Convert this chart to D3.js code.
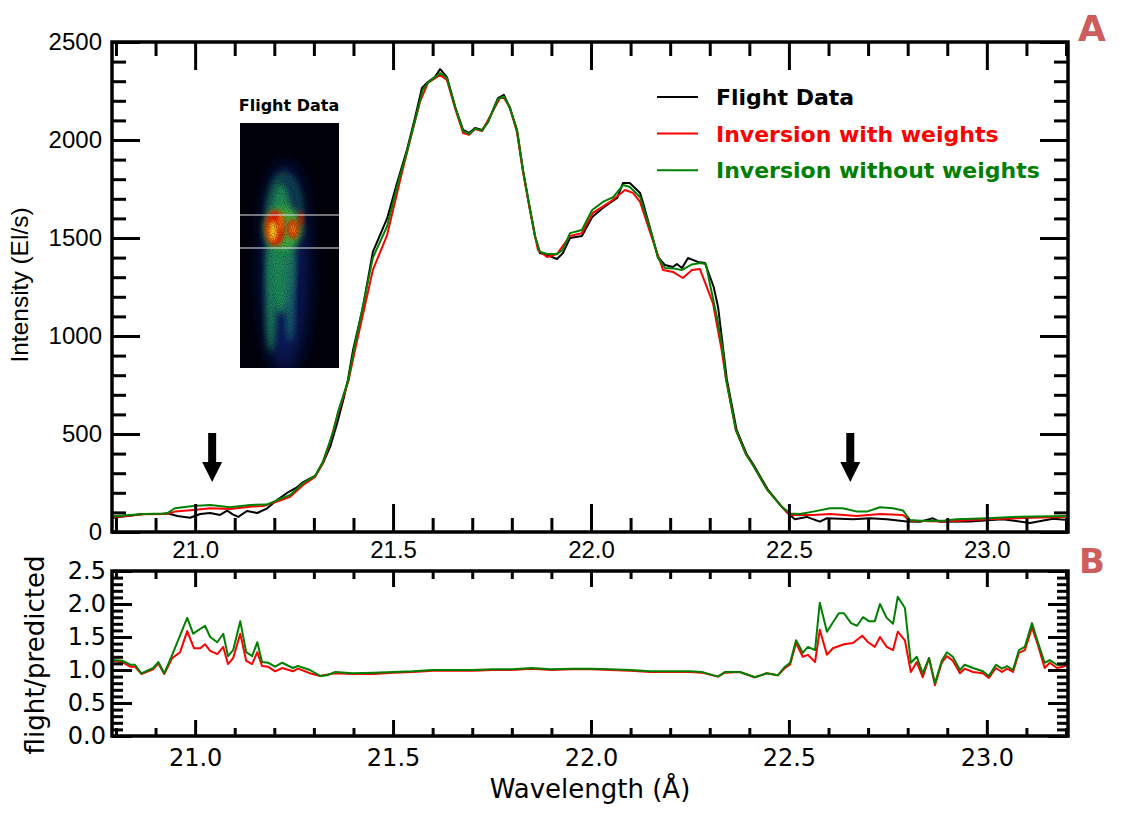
<!DOCTYPE html>
<html>
<head>
<meta charset="utf-8">
<script src="https://cdn.jsdelivr.net/npm/d3@7"></script>
<style>
  body { margin: 0; background: #fff; }
</style>
</head>
<body>
<div id="chart"></div>
<script>
// spectra: [wavelength (A), intensity (El/s)]
var flight = [[20.790,72],[20.802,75],[20.830,82],[20.869,92],[20.912,92],[20.930,96],[20.955,82],[20.987,73],[21.013,92],[21.038,97],[21.063,87],[21.081,109],[21.095,90],[21.109,77],[21.131,107],[21.157,97],[21.182,121],[21.207,163],[21.232,199],[21.255,225],[21.273,255],[21.303,286],[21.323,352],[21.341,434],[21.359,556],[21.375,680],[21.386,776],[21.399,929],[21.424,1148],[21.449,1429],[21.485,1600],[21.510,1780],[21.535,1949],[21.555,2110],[21.573,2265],[21.588,2296],[21.605,2320],[21.619,2362],[21.636,2321],[21.657,2168],[21.677,2051],[21.692,2036],[21.707,2061],[21.725,2051],[21.740,2092],[21.765,2214],[21.780,2230],[21.795,2163],[21.813,2051],[21.828,1847],[21.846,1643],[21.859,1505],[21.871,1423],[21.889,1413],[21.914,1393],[21.929,1423],[21.947,1500],[21.977,1510],[22.003,1607],[22.030,1653],[22.066,1704],[22.081,1781],[22.098,1781],[22.124,1730],[22.131,1684],[22.154,1515],[22.169,1403],[22.187,1362],[22.207,1352],[22.217,1367],[22.230,1347],[22.245,1398],[22.270,1378],[22.288,1372],[22.310,1250],[22.321,1148],[22.333,950],[22.343,781],[22.368,520],[22.393,398],[22.411,342],[22.446,219],[22.480,133],[22.497,97],[22.515,65],[22.545,77],[22.578,53],[22.596,70],[22.662,65],[22.705,70],[22.747,65],[22.798,53],[22.831,52],[22.864,70],[22.881,52],[22.957,53],[23.040,65],[23.109,46],[23.167,68],[23.205,61]];

var withWeights = [[20.790,78],[20.802,78],[20.869,90],[20.929,92],[20.949,104],[20.995,112],[21.038,121],[21.088,117],[21.139,129],[21.172,133],[21.207,155],[21.240,180],[21.273,240],[21.303,281],[21.323,352],[21.341,460],[21.360,600],[21.388,776],[21.404,929],[21.449,1337],[21.485,1515],[21.518,1796],[21.543,2000],[21.568,2194],[21.588,2291],[21.619,2332],[21.636,2306],[21.657,2160],[21.677,2036],[21.692,2026],[21.707,2056],[21.725,2046],[21.770,2214],[21.780,2214],[21.795,2168],[21.813,2040],[21.828,1840],[21.846,1640],[21.866,1439],[21.889,1403],[21.914,1418],[21.947,1510],[21.977,1525],[22.005,1628],[22.048,1684],[22.086,1745],[22.106,1730],[22.124,1684],[22.154,1500],[22.182,1337],[22.207,1327],[22.232,1296],[22.255,1337],[22.275,1342],[22.308,1168],[22.330,929],[22.341,781],[22.366,520],[22.391,398],[22.409,342],[22.444,219],[22.480,133],[22.497,97],[22.503,87],[22.561,87],[22.604,92],[22.672,82],[22.730,92],[22.788,87],[22.806,58],[22.889,53],[23.000,65],[23.205,78]];

var withoutWeights = [[20.790,80],[20.802,82],[20.869,92],[20.929,95],[20.949,121],[20.995,133],[21.038,138],[21.088,126],[21.139,138],[21.182,140],[21.207,163],[21.240,189],[21.273,250],[21.303,286],[21.323,360],[21.348,505],[21.362,620],[21.387,776],[21.401,929],[21.449,1400],[21.485,1560],[21.515,1800],[21.538,1960],[21.558,2120],[21.575,2255],[21.588,2291],[21.605,2320],[21.619,2342],[21.636,2316],[21.657,2168],[21.677,2046],[21.692,2031],[21.707,2058],[21.725,2048],[21.740,2092],[21.765,2210],[21.780,2222],[21.795,2165],[21.813,2051],[21.828,1850],[21.846,1650],[21.859,1505],[21.871,1430],[21.889,1418],[21.914,1418],[21.929,1440],[21.947,1525],[21.977,1541],[22.003,1643],[22.030,1684],[22.056,1709],[22.081,1770],[22.098,1760],[22.124,1709],[22.154,1515],[22.169,1400],[22.187,1347],[22.207,1345],[22.230,1337],[22.255,1365],[22.275,1372],[22.290,1367],[22.318,1097],[22.333,929],[22.341,781],[22.366,520],[22.391,398],[22.409,342],[22.444,219],[22.480,133],[22.503,95],[22.528,92],[22.561,104],[22.604,121],[22.636,121],[22.672,104],[22.697,104],[22.730,126],[22.763,121],[22.788,110],[22.806,61],[22.831,58],[22.889,58],[22.924,65],[23.000,70],[23.083,78],[23.205,82]];

// flight/predicted ratios
var ratioWith = [[20.790,1.14],[20.816,1.12],[20.836,1.05],[20.848,1.05],[20.864,0.94],[20.894,1.01],[20.907,1.10],[20.922,0.94],[20.942,1.18],[20.962,1.27],[20.980,1.59],[20.997,1.33],[21.013,1.33],[21.025,1.39],[21.038,1.29],[21.056,1.24],[21.071,1.35],[21.083,1.09],[21.096,1.18],[21.114,1.55],[21.129,1.14],[21.144,1.09],[21.157,1.27],[21.169,1.06],[21.184,1.05],[21.202,0.98],[21.220,1.03],[21.247,0.98],[21.260,1.02],[21.290,0.95],[21.316,0.91],[21.333,0.93],[21.354,0.95],[21.399,0.94],[21.45,0.94],[21.50,0.96],[21.55,0.97],[21.60,0.99],[21.65,0.99],[21.70,0.99],[21.75,1.00],[21.80,1.00],[21.85,1.02],[21.90,1.00],[21.95,1.01],[22.00,1.01],[22.05,1.00],[22.10,0.99],[22.15,0.97],[22.20,0.97],[22.25,0.97],[22.28,0.96],[22.321,0.90],[22.338,0.96],[22.376,0.97],[22.414,0.89],[22.444,0.95],[22.472,0.92],[22.490,1.03],[22.503,1.08],[22.518,1.41],[22.535,1.20],[22.548,1.23],[22.566,1.12],[22.578,1.61],[22.596,1.23],[22.611,1.33],[22.639,1.39],[22.662,1.41],[22.685,1.52],[22.700,1.42],[22.717,1.35],[22.730,1.50],[22.747,1.35],[22.763,1.30],[22.775,1.58],[22.793,1.45],[22.808,0.97],[22.823,1.12],[22.838,0.89],[22.854,1.18],[22.869,0.77],[22.886,1.11],[22.899,1.21],[22.914,1.14],[22.932,0.95],[22.944,1.02],[22.965,0.97],[22.990,0.95],[23.005,0.88],[23.023,1.03],[23.038,0.97],[23.051,1.02],[23.066,0.97],[23.081,1.26],[23.096,1.30],[23.114,1.64],[23.129,1.38],[23.146,1.03],[23.159,1.11],[23.177,1.03],[23.192,1.05],[23.205,1.08]];

var ratioWithout = [[20.790,1.15],[20.816,1.14],[20.836,1.08],[20.848,1.08],[20.864,0.95],[20.894,1.03],[20.907,1.12],[20.922,0.95],[20.942,1.23],[20.980,1.79],[20.995,1.55],[21.025,1.67],[21.038,1.50],[21.056,1.42],[21.071,1.55],[21.083,1.21],[21.096,1.30],[21.114,1.74],[21.129,1.27],[21.144,1.21],[21.157,1.42],[21.169,1.12],[21.184,1.11],[21.202,1.05],[21.220,1.11],[21.247,1.03],[21.260,1.06],[21.290,1.00],[21.316,0.91],[21.333,0.92],[21.354,0.97],[21.399,0.95],[21.45,0.96],[21.50,0.97],[21.55,0.98],[21.60,1.00],[21.65,1.00],[21.70,1.00],[21.75,1.01],[21.80,1.01],[21.85,1.03],[21.90,1.01],[21.95,1.02],[22.00,1.02],[22.05,1.01],[22.10,1.00],[22.15,0.98],[22.20,0.98],[22.25,0.98],[22.28,0.97],[22.321,0.90],[22.338,0.97],[22.376,0.97],[22.414,0.89],[22.444,0.95],[22.472,0.92],[22.490,1.05],[22.503,1.11],[22.518,1.45],[22.535,1.26],[22.548,1.35],[22.566,1.30],[22.578,2.02],[22.596,1.58],[22.626,1.86],[22.639,1.86],[22.657,1.71],[22.672,1.67],[22.687,1.80],[22.702,1.74],[22.717,1.74],[22.730,2.00],[22.747,1.79],[22.763,1.70],[22.775,2.11],[22.793,1.94],[22.808,1.11],[22.823,1.20],[22.838,0.95],[22.854,1.18],[22.869,0.80],[22.886,1.14],[22.899,1.27],[22.914,1.20],[22.932,1.00],[22.944,1.08],[22.965,1.03],[22.990,0.98],[23.005,0.91],[23.023,1.08],[23.038,1.02],[23.051,1.06],[23.066,1.00],[23.081,1.30],[23.096,1.35],[23.114,1.71],[23.129,1.42],[23.146,1.11],[23.159,1.15],[23.177,1.08],[23.192,1.08],[23.205,1.15]];

var xMajor = [21.0, 21.5, 22.0, 22.5, 23.0];
var yMajorTop = [0, 500, 1000, 1500, 2000, 2500];
var yMajorBottom = [0, 0.5, 1.0, 1.5, 2.0, 2.5];
var arrowWl = [21.043, 22.655];   // arrow positions, tips at 255 El/s
var legendNames = ['Flight Data', 'Inversion with weights', 'Inversion without weights'];
var legendColors = ['#000000', '#ff0000', '#008000'];

var width = 1125,
    height = 818;

var svg = d3.select('#chart')
    .append('svg')
    .attr('width', width)
    .attr('height', height);

var x = d3.scaleLinear().domain([20.79, 23.205]).range([112, 1068]);
var yTop = d3.scaleLinear().domain([0, 2500]).range([532, 42]);
var yBot = d3.scaleLinear().domain([0, 2.5]).range([736, 571]);

function round(v) { return Math.round(v * 1000) / 1000; }
var xMinor = d3.range(20.8, 23.25, 0.1).map(round).filter(function (d) {
    return Math.abs(d * 2 - Math.round(d * 2)) > 0.01;
});
var yMinorTop = d3.range(0, 2501, 100).filter(function (d) { return d % 500 !== 0; });
var yMinorBottom = d3.range(0, 2.51, 0.1).map(round).filter(function (d) {
    return Math.abs(d * 2 - Math.round(d * 2)) > 0.01;
});

// one set of inward ticks
function ticks(axisFn, scale, values, len, translate, fmt, font, size, pad) {
    var g = svg.append('g')
        .attr('transform', translate)
        .call(axisFn(scale).tickValues(values).tickSize(-len).tickPadding(pad || 0)
            .tickFormat(fmt || function () { return ''; }));
    g.select('.domain').remove();
    g.selectAll('line').attr('stroke', '#000').attr('stroke-width', 3);
    g.selectAll('text').attr('fill', '#000').style('font-family', font).style('font-size', size);
    return g;
}

function frame(yScale, yMaj, yMin, xLen, yLen, font, size, fmtY, padX, padY) {
    var y0 = yScale.range()[0], y1 = yScale.range()[1];
    var x0 = x.range()[0], x1 = x.range()[1];
    ticks(d3.axisBottom, x, xMajor, xLen[0], 'translate(0,' + y0 + ')', d3.format('.1f'), font, size, padX);
    ticks(d3.axisBottom, x, xMinor, xLen[1], 'translate(0,' + y0 + ')');
    ticks(d3.axisTop, x, xMajor, xLen[0], 'translate(0,' + y1 + ')');
    ticks(d3.axisTop, x, xMinor, xLen[1], 'translate(0,' + y1 + ')');
    ticks(d3.axisLeft, yScale, yMaj, yLen[0], 'translate(' + x0 + ',0)', fmtY, font, size, padY);
    ticks(d3.axisLeft, yScale, yMin, yLen[1], 'translate(' + x0 + ',0)');
    ticks(d3.axisRight, yScale, yMaj, yLen[0], 'translate(' + x1 + ',0)');
    ticks(d3.axisRight, yScale, yMin, yLen[1], 'translate(' + x1 + ',0)');
    svg.append('rect')
        .attr('x', x0).attr('y', y1)
        .attr('width', x1 - x0).attr('height', y0 - y1)
        .attr('fill', 'none').attr('stroke', '#000').attr('stroke-width', 3.5);
}

var defs = svg.append('defs');
defs.append('clipPath').attr('id', 'clipTop').append('rect')
    .attr('x', 112).attr('y', 42).attr('width', 956).attr('height', 490);
defs.append('clipPath').attr('id', 'clipBot').append('rect')
    .attr('x', 112).attr('y', 571).attr('width', 956).attr('height', 165);

// ---- panel A ----
var lineTop = d3.line().x(function (d) { return x(d[0]); }).y(function (d) { return yTop(d[1]); });
var topLines = svg.append('g').attr('clip-path', 'url(#clipTop)');
[flight, withWeights, withoutWeights].forEach(function (s, i) {
    topLines.append('path').datum(s)
        .attr('d', lineTop)
        .attr('fill', 'none')
        .attr('stroke', legendColors[i])
        .attr('stroke-width', 2)
        .attr('stroke-linejoin', 'round');
});

frame(yTop, yMajorTop, yMinorTop, [28, 14], [28, 14], 'Liberation Sans, Arial, sans-serif', '24px',
    d3.format('d'), 9, 10);

// arrows
arrowWl.forEach(function (w) {
    var cx = x(w), tip = yTop(255), top = yTop(505), head = tip - 20;
    svg.append('path')
        .attr('d', 'M' + (cx - 4) + ',' + top + 'L' + (cx + 4) + ',' + top + 'L' + (cx + 4) + ',' + head +
            'L' + (cx + 10) + ',' + head + 'L' + cx + ',' + tip + 'L' + (cx - 10) + ',' + head +
            'L' + (cx - 4) + ',' + head + 'Z')
        .attr('fill', '#000');
});

// legend
var legend = svg.append('g');
legendNames.forEach(function (n, i) {
    var ly = 97 + i * 36.6;
    legend.append('line')
        .attr('x1', 657).attr('x2', 698).attr('y1', ly).attr('y2', ly)
        .attr('stroke', legendColors[i]).attr('stroke-width', 2);
    legend.append('text')
        .attr('x', 716).attr('y', ly + 8)
        .attr('fill', legendColors[i])
        .style('font-family', 'DejaVu Sans, sans-serif')
        .style('font-weight', 'bold')
        .style('font-size', '22px')
        .text(n);
});

// inset detector image (decorative)
function addBlur(id, sd) {
    defs.append('filter').attr('id', id).attr('x', '-50%').attr('y', '-50%')
        .attr('width', '200%').attr('height', '200%')
        .append('feGaussianBlur').attr('stdDeviation', sd);
}
addBlur('blur1', 2);
addBlur('blur', 3.5);
addBlur('blur2', 9);
var grain = defs.append('filter').attr('id', 'grain');
grain.append('feTurbulence').attr('type', 'fractalNoise').attr('baseFrequency', 0.9)
    .attr('numOctaves', 1).attr('seed', 3).attr('result', 'n');
grain.append('feColorMatrix').attr('in', 'n').attr('type', 'matrix')
    .attr('values', '0 0 0 0 0  0 0 0 0 0  0 0 0 0 0  0 0 0 -1.6 1.0').attr('result', 'm');
grain.append('feComposite').attr('in', 'm').attr('in2', 'SourceGraphic').attr('operator', 'in');
defs.append('clipPath').attr('id', 'clipInset').append('rect')
    .attr('x', 240).attr('y', 123).attr('width', 99).attr('height', 245);

var inset = svg.append('g').attr('clip-path', 'url(#clipInset)');
inset.append('rect').attr('x', 240).attr('y', 123).attr('width', 99).attr('height', 245).attr('fill', '#00000a');
var glow = inset.append('g');
glow.append('ellipse').attr('cx', 285).attr('cy', 268).attr('rx', 24).attr('ry', 106)
    .attr('fill', '#0a2478').attr('opacity', 0.8).attr('filter', 'url(#blur2)');
glow.append('ellipse').attr('cx', 281).attr('cy', 248).attr('rx', 14).attr('ry', 66)
    .attr('fill', '#22965a').attr('opacity', 0.95).attr('filter', 'url(#blur)');
glow.append('path').attr('d', 'M268,214 Q272,172 286,176 Q298,182 300,214')
    .attr('fill', 'none').attr('stroke', '#1f8a62').attr('stroke-width', 6).attr('opacity', 0.6)
    .attr('filter', 'url(#blur)');
glow.append('ellipse').attr('cx', 271).attr('cy', 300).attr('rx', 5).attr('ry', 52)
    .attr('fill', '#1f8a60').attr('filter', 'url(#blur)');
glow.append('ellipse').attr('cx', 290).attr('cy', 298).attr('rx', 4).attr('ry', 45)
    .attr('fill', '#1a7272').attr('filter', 'url(#blur)');
glow.append('ellipse').attr('cx', 283).attr('cy', 228).attr('rx', 19).attr('ry', 21)
    .attr('fill', '#46b43a').attr('filter', 'url(#blur)');
glow.append('ellipse').attr('cx', 275).attr('cy', 228).attr('rx', 10).attr('ry', 18)
    .attr('fill', '#e62800').attr('filter', 'url(#blur1)');
glow.append('ellipse').attr('cx', 293).attr('cy', 229).attr('rx', 6).attr('ry', 10)
    .attr('fill', '#e03400').attr('filter', 'url(#blur1)');
glow.append('ellipse').attr('cx', 301).attr('cy', 219).attr('rx', 2.5).attr('ry', 8)
    .attr('fill', '#cc2200').attr('filter', 'url(#blur1)');
glow.append('ellipse').attr('cx', 273).attr('cy', 231).attr('rx', 4).attr('ry', 10)
    .attr('fill', '#ffd020').attr('filter', 'url(#blur1)');
glow.append('ellipse').attr('cx', 281).attr('cy', 222).attr('rx', 2).attr('ry', 9)
    .attr('fill', '#ff8a10').attr('filter', 'url(#blur1)');
glow.append('ellipse').attr('cx', 293).attr('cy', 229).attr('rx', 2).attr('ry', 5)
    .attr('fill', '#ffa020').attr('filter', 'url(#blur1)');
// speckle over the glow
inset.append('rect').attr('x', 240).attr('y', 123).attr('width', 99).attr('height', 245)
    .attr('fill', '#00000a').attr('opacity', 0.5).attr('filter', 'url(#grain)');
[215, 248].forEach(function (ly) {
    inset.append('line').attr('x1', 240).attr('x2', 339).attr('y1', ly).attr('y2', ly)
        .attr('stroke', '#e8e8e8').attr('stroke-width', 1.2);
});
svg.append('text')
    .attr('x', 289).attr('y', 111)
    .attr('text-anchor', 'middle')
    .style('font-family', 'DejaVu Sans, sans-serif')
    .style('font-weight', 'bold')
    .style('font-size', '16px')
    .text('Flight Data');

svg.append('text')
    .attr('transform', 'translate(28,285) rotate(-90)')
    .attr('text-anchor', 'middle')
    .style('font-family', 'Liberation Sans, Arial, sans-serif')
    .style('font-size', '24.5px')
    .text('Intensity (El/s)');

// ---- panel B ----
var lineBot = d3.line().x(function (d) { return x(d[0]); }).y(function (d) { return yBot(d[1]); });
var botLines = svg.append('g').attr('clip-path', 'url(#clipBot)');
[ratioWith, ratioWithout].forEach(function (s, i) {
    botLines.append('path').datum(s)
        .attr('d', lineBot)
        .attr('fill', 'none')
        .attr('stroke', legendColors[i + 1])
        .attr('stroke-width', 2)
        .attr('stroke-linejoin', 'round');
});

frame(yBot, yMajorBottom, yMinorBottom, [16, 8], [20, 11], 'DejaVu Sans, sans-serif', '24px',
    d3.format('.1f'), 13, 6);

svg.append('text')
    .attr('transform', 'translate(44,655) rotate(-90)')
    .attr('text-anchor', 'middle')
    .style('font-family', 'DejaVu Sans, sans-serif')
    .style('font-size', '26px')
    .text('flight/predicted');

svg.append('text')
    .attr('x', 590).attr('y', 798)
    .attr('text-anchor', 'middle')
    .style('font-family', 'DejaVu Sans, sans-serif')
    .style('font-size', '26px')
    .text('Wavelength (Å)');

// panel letters
svg.append('text').attr('x', 1092).attr('y', 41).attr('text-anchor', 'middle')
    .attr('fill', '#cd5c5c').style('font-family', 'DejaVu Sans, sans-serif')
    .style('font-weight', 'bold').style('font-size', '36px').text('A');
svg.append('text').attr('x', 1092).attr('y', 573).attr('text-anchor', 'middle')
    .attr('fill', '#cd5c5c').style('font-family', 'DejaVu Sans, sans-serif')
    .style('font-weight', 'bold').style('font-size', '34px').text('B');
</script>
</body>
</html>
